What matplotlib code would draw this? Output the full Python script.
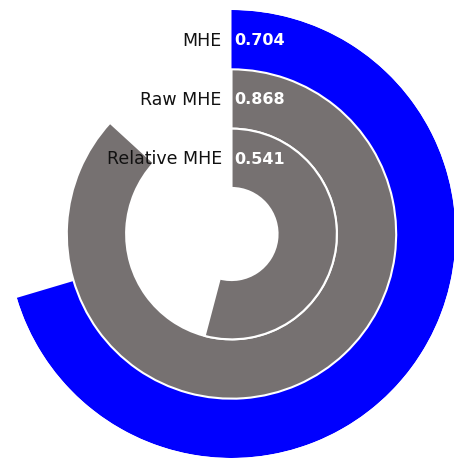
import numpy as np
import matplotlib.pyplot as plt

# ring data, outermost first
labels = ['MHE', 'Raw MHE', 'Relative MHE']
values = [0.704, 0.868, 0.541]
colors = ['#0000ff', '#767171', '#767171']
edges = [0, 1.5, 1.5]

hole = 0.776   # radius of the empty centre, in ring widths

fig = plt.figure(figsize=(4.54, 4.60), dpi=100)
# centre at (231.5, 235) px, outer radius 224 px
ax = fig.add_axes([(231.5 - 224) / 454, (225 - 224) / 460, 448 / 454, 448 / 460],
                  projection='polar')
ax.set_theta_zero_location('N')
ax.set_theta_direction(-1)

n = len(values)
for i, (lab, v, c, lw) in enumerate(zip(labels, values, colors, edges)):
    bottom = hole + (n - 1 - i)
    ax.bar(0, 1, width=v * 2 * np.pi, bottom=bottom, align='edge',
           color=c, edgecolor='white', linewidth=lw, zorder=3 + i)
    mid = bottom + 0.5
    ax.annotate(lab, xy=(0, mid), xytext=(-7, 0), textcoords='offset points',
                ha='right', va='center', fontsize=12.5, color='#111111', zorder=10)
    ax.annotate(f'{v:.3f}', xy=(0, mid), xytext=(2, 0), textcoords='offset points',
                ha='left', va='center', fontsize=11.5, fontweight='bold',
                color='white', zorder=10)

ax.set_ylim(0, hole + n)
ax.axis('off')

fig.savefig('out.png', dpi=100)
